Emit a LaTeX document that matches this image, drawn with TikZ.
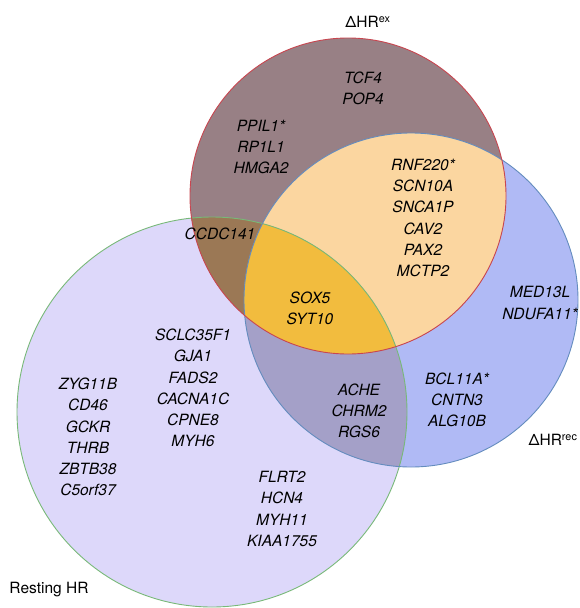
\documentclass[tikz,border=0pt]{standalone}
\usepackage{fontspec}
\setmainfont{TeX Gyre Heros}
\begin{document}
\begin{tikzpicture}[x=1pt,y=-1pt,
  gene/.style={align=center,font=\fontsize{15.5}{21.3}\selectfont\itshape,inner sep=0pt},
  setlabel/.style={font=\fontsize{15.5}{18}\selectfont,inner sep=0pt}]
\definecolor{cEx}{RGB}{152,128,133}
\definecolor{cRec}{RGB}{176,186,245}
\definecolor{cRest}{RGB}{221,216,250}
\definecolor{cExRec}{RGB}{251,214,160}
\definecolor{cExRest}{RGB}{155,120,85}
\definecolor{cRecRest}{RGB}{164,160,200}
\definecolor{cAll}{RGB}{242,188,62}
\definecolor{eEx}{RGB}{200,70,80}
\definecolor{eRec}{RGB}{100,140,190}
\definecolor{eRest}{RGB}{120,185,120}
\useasboundingbox (0,0) rectangle (580,608);
\def\circEx{(348,196) circle (158)}
\def\circRec{(411,300) circle (167)}
\def\circRest{(212,412) circle (195)}
% single fills
\fill[cRest] \circRest;
\fill[cRec] \circRec;
\fill[cEx] \circEx;
% pairwise
\begin{scope}\clip \circEx; \fill[cExRec] \circRec; \end{scope}
\begin{scope}\clip \circEx; \fill[cExRest] \circRest; \end{scope}
\begin{scope}\clip \circRec; \fill[cRecRest] \circRest; \end{scope}
\begin{scope}\clip \circEx; \clip \circRec; \fill[cAll] \circRest; \end{scope}
% outlines
\draw[eRest,line width=0.9pt] \circRest;
\draw[eRec,line width=0.9pt] \circRec;
\draw[eEx,line width=0.9pt] \circEx;
% set labels
\node[setlabel] (lex) at (368,22) {ΔHR\textsuperscript{ex}};
\node[setlabel] (lrec) at (553,440) {ΔHR\textsuperscript{rec}};
\node[setlabel] (lrest) at (49,590) {Resting HR};
% genes
\node[gene] (g1) at (363,88) {TCF4\\POP4};
\node[gene] (g2) at (261,147) {PPIL1*\\RP1L1\\HMGA2};
\node[gene] (g3) at (423,218) {RNF220*\\SCN10A\\SNCA1P\\CAV2\\PAX2\\MCTP2};
\node[gene] (g4) at (220,234) {CCDC141};
\node[gene] (g5) at (310,308) {SOX5\\SYT10};
\node[gene] (g6) at (540,303) {MED13L\\NDUFA11*};
\node[gene] (g7) at (457,400) {BCL11A*\\CNTN3\\ALG10B};
\node[gene] (g8) at (359,411) {ACHE\\CHRM2\\RGS6};
\node[gene] (g9) at (193,388) {SCLC35F1\\GJA1\\FADS2\\CACNA1C\\CPNE8\\MYH6};
\node[gene] (g10) at (88,437) {ZYG11B\\CD46\\GCKR\\THRB\\ZBTB38\\C5orf37};
\node[gene] (g11) at (282,509) {FLRT2\\HCN4\\MYH11\\KIAA1755};
\end{tikzpicture}
\end{document}
